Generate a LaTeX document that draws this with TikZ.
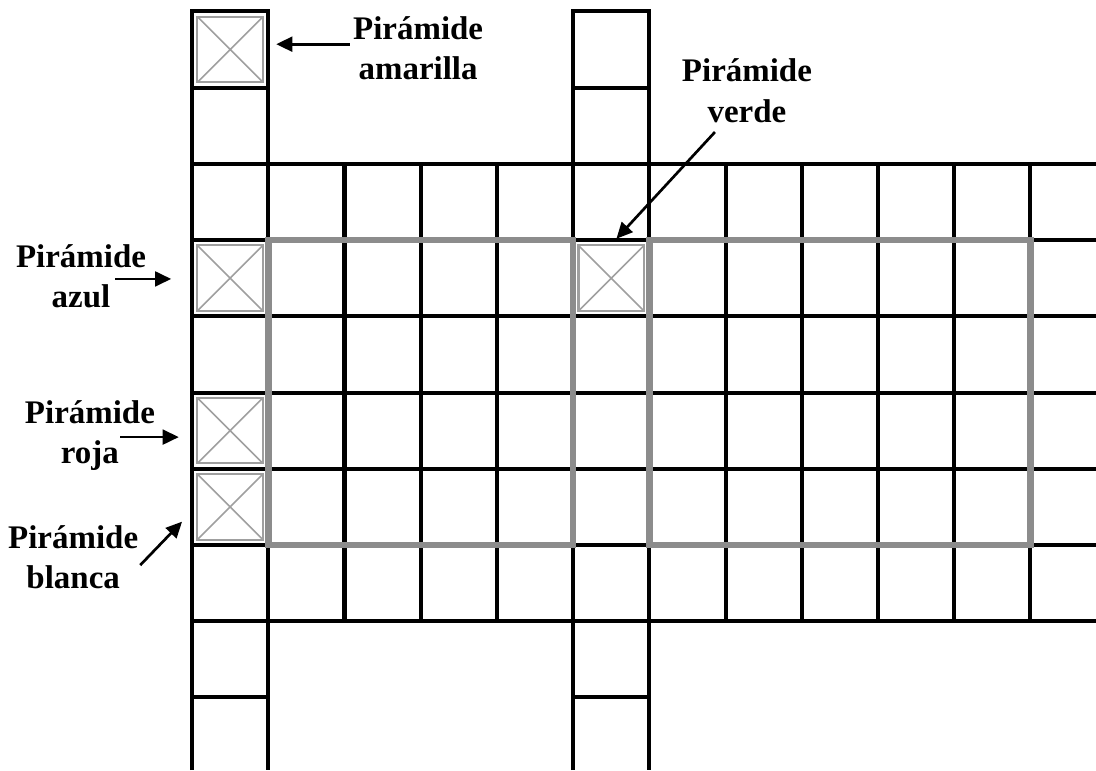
\documentclass[tikz,border=0pt]{standalone}
\usepackage{fontspec}
\setmainfont{Liberation Serif}
\usetikzlibrary{arrows.meta}

\begin{document}
\begin{tikzpicture}[x=1cm, y=1cm,
  rejilla/.style={line width=1.5pt, line join=miter},
  zona/.style={draw=gray!90, line width=2.4pt},
  piramide/.style={draw=gray!75, line width=0.8pt, minimum size=0.86cm, inner sep=0pt,
    path picture={\draw[gray!75, line width=0.6pt]
      (path picture bounding box.south west) -- (path picture bounding box.north east)
      (path picture bounding box.north west) -- (path picture bounding box.south east);}},
  etiqueta/.style={align=center, inner sep=0pt, font=\bfseries\fontsize{12.3}{15}\selectfont},
  flecha/.style={line width=1pt, -{Triangle[length=6pt, width=5.5pt]}}]

  \useasboundingbox (-2.52,-1.955) rectangle (11.86,8.15);

  % rejilla principal
  \foreach \y in {0,...,6}
    \draw[rejilla] (0,\y) -- (11.86,\y);
  \foreach \x in {2,3,4,7,8,9,10,11}
    \draw[rejilla] (\x,0) -- (\x,6);
  % columnas largas
  \foreach \x in {0,5} {
    \draw[rejilla] (\x,-1.955) -- (\x,8) -- (\x+1,8) -- (\x+1,-1.955);
    \draw[rejilla] (\x,7) -- (\x+1,7) (\x,-1) -- (\x+1,-1);
  }

  % zonas grises
  \draw[zona] (1,1) rectangle (5,5);
  \draw[zona] (6,1) rectangle (11,5);

  % piramides
  \node[piramide] (pamar) at (0.5,7.5) {};
  \node[piramide] (pazul) at (0.5,4.5) {};
  \node[piramide] (proja) at (0.5,2.5) {};
  \node[piramide] (pblanca) at (0.5,1.5) {};
  \node[piramide] (pverde) at (5.5,4.5) {};

  % etiquetas
  \node[etiqueta] (lamar) at (2.966,7.52) {Pirámide\\amarilla};
  \node[etiqueta] (lverde) at (7.28,6.96) {Pirámide\\verde};
  \node[etiqueta] (lazul) at (-1.457,4.53) {Pirámide\\azul};
  \node[etiqueta] (lroja) at (-1.34,2.44) {Pirámide\\roja};
  \node[etiqueta] (lblanca) at (-1.56,0.84) {Pirámide\\blanca};

  \coordinate (tamar) at (2.07,7.57);
  \coordinate (tverde) at (6.86,6.417);
  \coordinate (tazul) at (-1.01,4.49);
  \coordinate (troja) at (-0.945,2.415);
  \coordinate (tblanca) at (-0.68,0.735);

  \draw[flecha, shorten >=0.16cm] (tamar) -- (tamar -| pamar.east);
  \draw[flecha, shorten >=0.1cm] (tverde) -- (pverde.north);
  \draw[flecha, shorten >=0.33cm] (tazul) -- (tazul -| pazul.west);
  \draw[flecha, shorten >=0.23cm] (troja) -- (troja -| proja.west);
  \draw[flecha, shorten >=0.27cm] (tblanca) -- (pblanca.west);
\end{tikzpicture}
\end{document}
